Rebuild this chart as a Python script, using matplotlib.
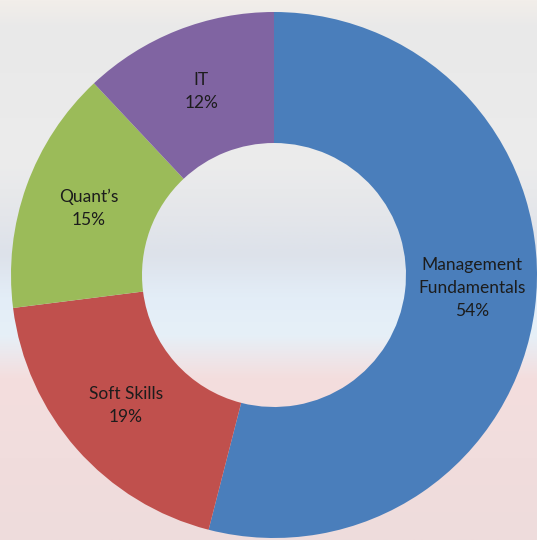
import matplotlib.pyplot as plt
import numpy as np
from matplotlib.colors import LinearSegmentedColormap
from matplotlib.transforms import offset_copy

# donut data
labels = ["Management\nFundamentals", "Soft Skills", "Quant\u2019s", "IT"]
shares = [54, 19, 15, 12]
colors = ["#4a7ebb", "#c0504d", "#9bbb59", "#8064a2"]

plt.rcParams['font.family'] = ['Lato', 'DejaVu Sans']

fig = plt.figure(figsize=(5.37, 5.40), dpi=100)
ax = fig.add_axes([0, 0, 1, 1])

# blurred photo-like backdrop, top to bottom
bg = LinearSegmentedColormap.from_list("bg", [
    (0.00, "#f2eeea"), (0.05, "#e9e9e9"), (0.30, "#ececec"),
    (0.40, "#e4e6ea"), (0.47, "#dde2ea"), (0.55, "#e3edf7"),
    (0.62, "#e6f0f8"), (0.70, "#f4dede"), (1.00, "#eedcdc")])
grad = np.linspace(0, 1, 256).reshape(-1, 1)
ax.imshow(grad, cmap=bg, extent=[0, 537, 0, 540], origin='upper',
          aspect='auto', zorder=0)

wedges, texts = ax.pie(shares, labels=[f"{l}\n{s}%" for l, s in zip(labels, shares)],
                       colors=colors, startangle=90, counterclock=False,
                       center=(274, 265), radius=263, frame=True,
                       labeldistance=0.75,
                       wedgeprops=dict(width=131, linewidth=0),
                       textprops=dict(fontsize=12.5, color="#1c1c1c",
                                      ha='center', va='center',
                                      linespacing=1.55))
for w in wedges:
    w.set_zorder(2)
for t in texts:
    t.set_zorder(3)
    t.set_horizontalalignment('center')
# Excel puts the big slice's label a little higher
texts[0].set_transform(offset_copy(texts[0].get_transform(), fig=fig,
                                   x=2, y=12, units='dots'))

ax.set_xlim(0, 537)
ax.set_ylim(0, 540)
ax.set_aspect('equal')
ax.axis('off')

fig.savefig("out.png", dpi=100)
